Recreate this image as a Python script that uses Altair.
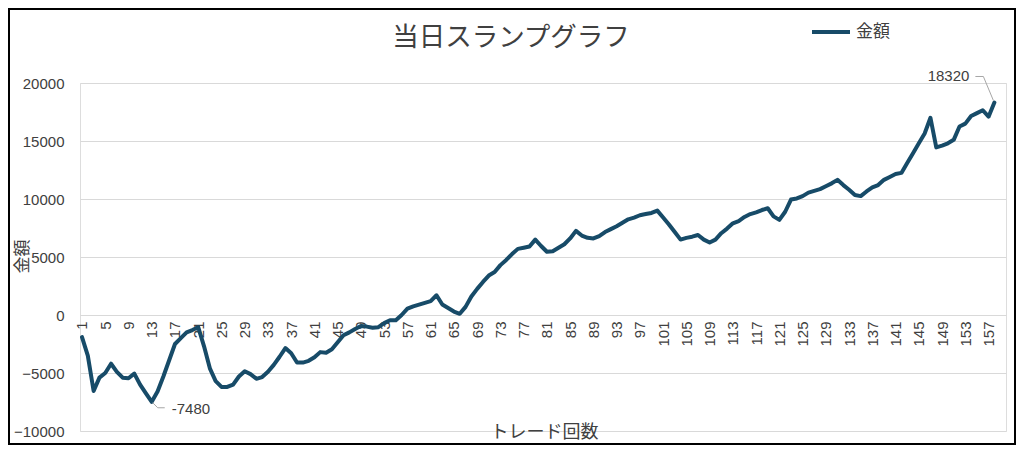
import altair as alt
import pandas as pd

# ---- data ----
trade = list(range(1, 159))
amount = [
    -1900, -3500, -6550, -5400, -5000, -4200, -4900, -5400, -5450, -5050,
    -6000, -6750, -7480, -6600, -5300, -3900, -2500, -2000, -1500, -1300,
    -1050, -2700, -4600, -5700, -6200, -6200, -6000, -5300, -4850, -5100,
    -5500, -5350, -4900, -4300, -3600, -2850, -3300, -4100, -4100, -3950,
    -3650, -3200, -3250, -2950, -2350, -1750, -1500, -1200, -950, -1000,
    -1100, -1050, -700, -450, -450, 0, 550, 750, 900, 1050,
    1200, 1700, 900, 600, 300, 100, 700, 1600, 2250, 2850,
    3400, 3700, 4300, 4750, 5250, 5700, 5800, 5900, 6500, 5950,
    5450, 5500, 5800, 6100, 6600, 7250, 6850, 6650, 6600, 6800,
    7150, 7400, 7650, 7950, 8250, 8400, 8600, 8700, 8800, 9000,
    8400, 7800, 7150, 6500, 6650, 6750, 6900, 6500, 6250, 6500,
    7050, 7450, 7900, 8100, 8450, 8700, 8850, 9050, 9200, 8500,
    8200, 8900, 9950, 10050, 10250, 10550, 10700, 10850, 11100, 11350,
    11650, 11200, 10800, 10350, 10250, 10650, 11000, 11200, 11650, 11900,
    12150, 12250, 13100, 13950, 14800, 15650, 17000, 14450, 14600, 14800,
    15100, 16250, 16500, 17150, 17400, 17650, 17100, 18320,
]
series_name = "金額"
chart_title = "当日スランプグラフ"
x_tick_values = list(range(1, 158, 4))
y_tick_values = [-10000, -5000, 0, 5000, 10000, 15000, 20000]

LINE_COLOR = "#174B68"
TEXT_COLOR = "#404040"
GRID_COLOR = "#D9D9D9"
CJK = "Noto Sans CJK JP"
LATIN = "Liberation Sans"

W, H = 926, 348

df = pd.DataFrame({"trade": trade, "amount": amount, "series": series_name})
imin = amount.index(min(amount))
low = pd.DataFrame({"trade": [trade[imin]], "amount": [amount[imin]],
                    "label": [str(amount[imin])]})
high = pd.DataFrame({"trade": [trade[-1]], "amount": [amount[-1]],
                     "label": [str(amount[-1])]})

xscale = alt.Scale(domain=[0.656, 160.0], nice=False, zero=False)
yscale = alt.Scale(domain=[-10000, 20000], nice=False, zero=False)

x_enc = alt.X(
    "trade:Q", scale=xscale,
    axis=alt.Axis(
        values=x_tick_values, tickCount=500, format="d", labelAngle=-90,
        grid=False, ticks=False, domain=True, domainColor=GRID_COLOR,
        domainWidth=1, offset=-116, labelPadding=6, labelFont=LATIN,
        labelFontSize=15, labelColor=TEXT_COLOR, labelOverlap=False,
        labelFlush=False, labelBound=False, zindex=0,
        title="トレード回数", titleFont=CJK, titleFontSize=18,
        titleFontWeight="normal", titleColor=TEXT_COLOR,
        titleX=464, titleY=117, titleAlign="center", titleBaseline="middle",
    ),
)
y_enc = alt.Y(
    "amount:Q", scale=yscale,
    axis=alt.Axis(
        values=y_tick_values, format="d", grid=True, gridColor=GRID_COLOR,
        gridWidth=1, domain=False, ticks=False, labelPadding=16,
        labelFont=LATIN, labelFontSize=15, labelColor=TEXT_COLOR, zindex=0,
        title="金額", titleFont=CJK, titleFontSize=17, titleFontWeight="normal",
        titleColor=TEXT_COLOR, titleAngle=-90, titleX=-58, titleY=173,
        titleAlign="center", titleBaseline="middle",
    ),
)

line = alt.Chart(df).mark_line(
    strokeWidth=4, strokeJoin="round", strokeCap="round"
).encode(
    x=x_enc, y=y_enc,
    color=alt.Color(
        "series:N",
        scale=alt.Scale(domain=[series_name], range=[LINE_COLOR]),
        legend=alt.Legend(
            title=None, orient="none", legendX=730, legendY=-72,
            symbolType="stroke", symbolSize=1444, symbolStrokeWidth=4,
            labelFont=CJK, labelFontSize=17, labelColor=TEXT_COLOR,
            labelOffset=4, padding=0,
        ),
    ),
)

def leader(data, x0, y0, x1, y1):
    return alt.Chart(data).mark_rule(
        color="#A6A6A6", strokeWidth=1,
        xOffset=x0, yOffset=y0, x2Offset=x1, y2Offset=y1,
    ).encode(
        x=alt.X("trade:Q", scale=xscale), y=alt.Y("amount:Q", scale=yscale),
        x2="trade:Q", y2="amount:Q",
    )

low_lead1 = leader(low, 1, 1, 6, 6)
low_lead2 = leader(low, 6, 6, 13, 6)
high_lead1 = leader(high, -1, -2, -11, -26)
high_lead2 = leader(high, -11, -26, -19, -26)

low_text = alt.Chart(low).mark_text(
    align="left", baseline="middle", dx=20, dy=7,
    font=LATIN, fontSize=15, color=TEXT_COLOR,
).encode(x=alt.X("trade:Q", scale=xscale), y=alt.Y("amount:Q", scale=yscale),
         text="label:N")
high_text = alt.Chart(high).mark_text(
    align="right", baseline="middle", dx=-25, dy=-26,
    font=LATIN, fontSize=15, color=TEXT_COLOR,
).encode(x=alt.X("trade:Q", scale=xscale), y=alt.Y("amount:Q", scale=yscale),
         text="label:N")

title_text = alt.Chart(pd.DataFrame({"t": [chart_title]})).mark_text(
    align="center", baseline="alphabetic", font=CJK, fontSize=26.5,
    color=TEXT_COLOR, clip=False,
).encode(x=alt.value(431), y=alt.value(-37), text="t:N")

frame = alt.Chart(pd.DataFrame({"k": [0]})).mark_rect(
    fillOpacity=0, stroke="#000000", strokeWidth=2, clip=False
).encode(
    x=alt.value(-71), x2=alt.value(W + 9),
    y=alt.value(-74), y2=alt.value(H + 13),
)

chart = alt.layer(
    line, low_lead1, low_lead2, high_lead1, high_lead2, low_text, high_text,
    title_text, frame
).properties(
    width=W, height=H,
    autosize=alt.AutoSizeParams(type="none"),
    padding={"left": 72, "top": 75, "right": 10, "bottom": 14},
).configure_view(stroke=None).configure(background="white")

chart.save("out.html", embed_options={"renderer": "svg", "actions": False})
